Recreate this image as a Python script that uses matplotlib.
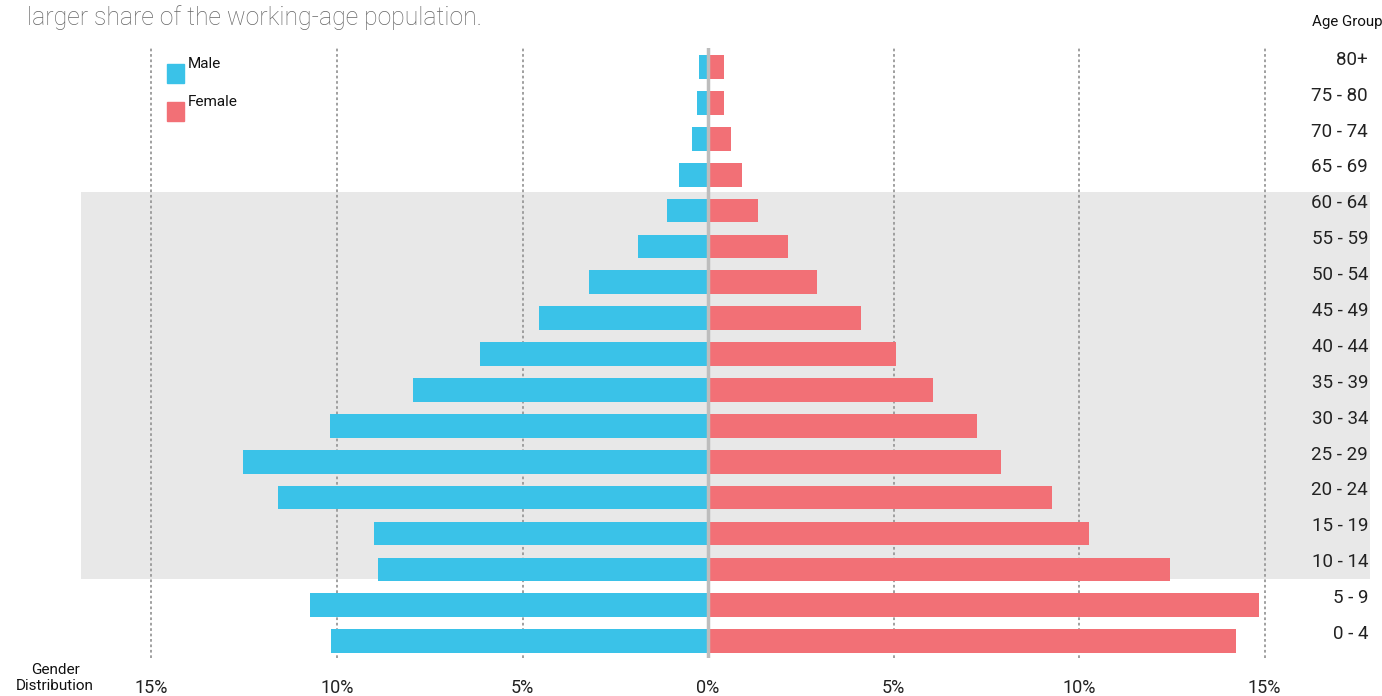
import matplotlib
matplotlib.use('Agg')
import matplotlib.pyplot as plt
from matplotlib.patches import Rectangle
from matplotlib.transforms import blended_transform_factory

plt.rcParams['font.family'] = ['Roboto', 'DejaVu Sans']

age_groups = ['0 - 4', '5 - 9', '10 - 14', '15 - 19', '20 - 24', '25 - 29', '30 - 34',
              '35 - 39', '40 - 44', '45 - 49', '50 - 54', '55 - 59', '60 - 64',
              '65 - 69', '70 - 74', '75 - 80', '80+']
male = [10.16, 10.73, 8.9, 9.0, 11.6, 12.53, 10.2, 7.95, 6.15, 4.55, 3.2, 1.89, 1.12,
        0.78, 0.43, 0.30, 0.24]
female = [14.23, 14.85, 12.45, 10.27, 9.27, 7.9, 7.25, 6.06, 5.07, 4.12, 2.94, 2.16,
          1.35, 0.92, 0.62, 0.43, 0.43]
ticks = [-15, -10, -5, 0, 5, 10, 15]
tick_labels = ['15%', '10%', '5%', '0%', '5%', '10%', '15%']

male_color = '#3AC2E8'
female_color = '#F27076'

fig = plt.figure(figsize=(13.82, 6.96), dpi=100)
ax = fig.add_axes([81 / 1382, 38 / 696, (1370 - 81) / 1382, 610 / 696])

y = list(range(len(age_groups)))
ax.barh(y, [-v for v in male], height=0.66, color=male_color, zorder=2)
ax.barh(y, female, height=0.66, color=female_color, zorder=2)

# working-age highlight band
ax.axhspan(1.73, 12.52, color='#E8E8E8', zorder=0, lw=0)

for t in ticks:
    if t == 0:
        ax.axvline(0, color='#BDBDBD', lw=2.5, zorder=3)
    else:
        ax.axvline(t, color='#999999', lw=1.3, ls=(0, (1.5, 1.5)), zorder=1)

ax.set_xlim(-16.9, 17.84)
ax.set_ylim(-0.47, 16.53)
ax.set_xticks(ticks)
ax.set_xticklabels(tick_labels, fontsize=13, color='#222222')
ax.tick_params(axis='x', length=0, pad=15)
ax.set_yticks([])
for s in ax.spines.values():
    s.set_visible(False)

# labels sit a little above the bar centres, as in the original
trans = blended_transform_factory(ax.transAxes, ax.transData)
for i, lab in enumerate(age_groups):
    ax.text(0.9985, i + 0.2, lab, transform=trans, ha='right', va='center',
            fontsize=13.5, color='#222222')

# legend
for k, (name, c) in enumerate([('Male', male_color), ('Female', female_color)]):
    top = 64 + k * 38
    fig.patches.append(Rectangle((167 / 1382, 1 - (top + 19) / 696), 17 / 1382, 19 / 696,
                                 transform=fig.transFigure, color=c, figure=fig))
    fig.text(188 / 1382, 1 - top / 696, name, fontsize=11, va='center',
             ha='left', color='#111111')

fig.text(27 / 1382, 1 - 18 / 696, 'larger share of the working-age population.',
         fontsize=17.8, fontweight='light', color='#666666', va='center', ha='left')
fig.text(1312 / 1382, 1 - 22 / 696, 'Age Group', fontsize=10.8, va='center', ha='left',
         color='#111111')
fig.text(55 / 1382, 1 - 678 / 696, 'Gender\nDistribution', fontsize=11, va='center',
         ha='center', color='#111111', linespacing=1.2)

fig.savefig('out.png', dpi=100)
